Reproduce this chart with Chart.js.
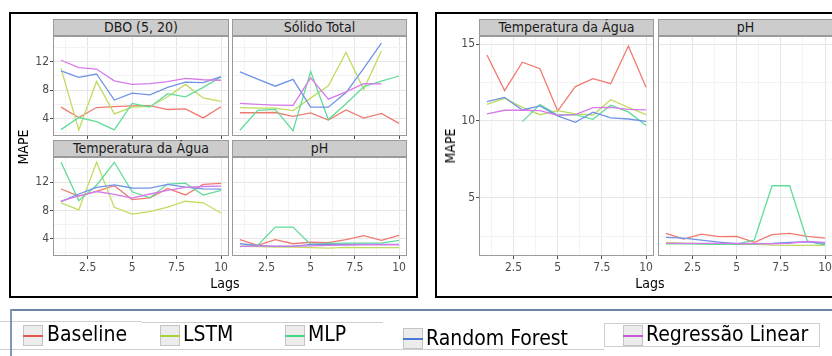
<!DOCTYPE html>
<html><head><meta charset="utf-8">
<script src="https://cdn.jsdelivr.net/npm/chart.js@4"></script>
<style>
html,body{margin:0;padding:0;background:#fff;width:832px;height:356px;overflow:hidden;position:relative;font-family:'DejaVu Sans Condensed','DejaVu Sans',sans-serif;}
.frame{position:absolute;border:2px solid #000;box-sizing:border-box;}
.strip{position:absolute;background:#cccccc;border:1px solid #9a9a9a;box-sizing:border-box;color:#1a1a1a;font-size:14px;text-align:center;line-height:15px;white-space:nowrap;}
.title{position:absolute;font-size:14px;color:#000;white-space:nowrap;line-height:14px;}
.hl{position:absolute;height:1px;background:#cfcfcf;}
.key{position:absolute;width:20px;height:21px;box-sizing:border-box;background:#ececec;border:1px solid #c4c4c4;}
.key i{position:absolute;left:-1px;right:-1px;top:9px;height:2px;display:block;}
.lt{position:absolute;font-size:21px;line-height:21px;color:#000;white-space:nowrap;}
</style>
</head><body>
<div class="frame" style="left:9px;top:12px;width:409px;height:286px;"></div>
<div class="frame" style="left:435px;top:12px;width:420px;height:286px;"></div>
<script>
// ---------------- DATA ----------------
const lags = [1, 2, 3, 4, 5, 6, 7, 8, 9, 10];
const seriesNames = ['Baseline', 'LSTM', 'MLP', 'Random Forest', 'Regressão Linear'];
const facetTitlesLeft = ['DBO (5, 20)', 'Sólido Total', 'Temperatura da Água', 'pH'];
const facetTitlesRight = ['Temperatura da Água', 'pH'];
const xTicks = [1.25, 2.5, 3.75, 5, 6.25, 7.5, 8.75, 10];
const yTicksLeft = [2, 4, 6, 8, 10, 12, 14];
const yTicksRight = [2.5, 5, 7.5, 10, 12.5, 15];

// left figure, DBO (5, 20)
const dboBaseline = [5.6, 4.14, 5.55, 5.69, 5.79, 5.83, 5.27, 5.36, 4.09, 5.65];
const dboLSTM     = [11.06, 2.4, 9.22, 4.66, 5.6, 5.7, 7.06, 8.8, 6.9, 6.4];
const dboMLP      = [2.45, 4.14, 3.58, 2.4, 6.12, 5.6, 7.5, 7.06, 8.38, 9.85];
const dboRF       = [10.7, 9.8, 10.26, 6.6, 7.58, 7.34, 8.38, 9.13, 9.04, 9.88];
const dboRL       = [12.19, 11.15, 10.96, 9.3, 8.8, 8.9, 9.2, 9.65, 9.45, 9.38];
// left figure, Sólido Total
const solBaseline = [4.82, 4.82, 4.85, 4.3, 4.8, 3.78, 5.2, 4.07, 4.72, 3.32];
const solLSTM     = [5.55, 5.48, 5.46, 5.13, 6.87, 8.6, 13.3, 8.1, 13.5, null];
const solMLP      = [2.35, 5.15, 5.28, 2.3, 10.6, 3.86, 6.07, 8.47, 9.27, 9.98];
const solRF       = [10.55, 9.55, 8.55, 9.5, 5.6, 5.6, 7.65, 11.06, 14.59, null];
const solRL       = [6.14, 6.0, 5.9, 5.84, 9.72, 6.73, 7.76, 8.9, 8.87, null];
// left figure, Temperatura da Água
const tmpBaseline = [11.06, 10.05, 10.73, 11.53, 9.55, 9.79, 11.15, 10.21, 11.72, 11.86];
const tmpLSTM     = [9.08, 8.09, 14.85, 8.47, 7.5, 7.86, 8.5, 9.32, 9.1, 7.65];
const tmpMLP      = [14.85, 9.41, 11.6, 14.85, 10.66, 9.8, 11.76, 11.88, 10.2, 10.87];
const tmpRF       = [9.27, 10.35, 11.3, 11.65, 11.2, 11.17, 11.72, 11.32, 11.08, 11.03];
const tmpRL       = [9.34, 10.07, 10.7, 10.3, 9.77, 10.35, 10.87, 11.29, 11.41, 11.48];
// left figure, pH
const phBaseline  = [3.86, 3.06, 3.86, 3.29, 3.5, 3.45, 3.86, 4.45, 3.76, 4.47];
const phLSTM      = [2.92, 2.9, 2.82, 2.8, 2.73, 2.68, 2.78, 2.73, 2.73, 2.73];
const phMLP       = [2.87, 3.06, 5.65, 5.65, 3.18, 3.34, 3.39, 3.39, 3.39, 3.76];
const phRF        = [3.29, 3.06, 2.92, 2.92, 3.2, 3.2, 3.2, 3.2, 3.2, 3.2];
const phRL        = [2.92, 2.94, 2.94, 2.96, 3.0, 3.06, 3.1, 3.15, 3.15, 3.15];
// right figure, Temperatura da Água
const tmp2Baseline = [14.3, 11.98, 13.83, 13.41, 10.65, 12.24, 12.76, 12.43, 14.89, 12.2];
const tmp2LSTM     = [11.09, 11.48, 10.89, 10.41, 10.67, 10.46, 10.39, 11.39, 10.89, 10.41];
const tmp2MLP      = [null, null, 9.96, 11.07, 10.39, 10.41, 10.11, 11.02, 10.59, 9.7];
const tmp2RF       = [11.26, 11.54, 10.72, 10.98, 10.33, 9.91, 10.57, 10.2, 10.13, 9.98];
const tmp2RL       = [10.46, 10.7, 10.7, 10.67, 10.37, 10.41, 10.87, 10.89, 10.76, 10.72];
// right figure, pH
const ph2Baseline = [2.67, 2.3, 2.63, 2.46, 2.48, 2.09, 2.59, 2.67, 2.48, 2.37];
const ph2LSTM     = [2.09, 2.03, 2.0, 1.96, 1.96, 1.98, 1.91, 1.89, 1.89, 1.89];
const ph2MLP      = [2.0, 2.0, 1.98, 1.96, 1.98, 2.24, 5.78, 5.78, 2.17, 1.91];
const ph2RF       = [2.41, 2.37, 2.24, 2.11, 2.0, 2.0, 2.02, 2.09, 2.13, 2.02];
const ph2RL       = [2.02, 2.02, 2.02, 2.02, 2.02, 2.02, 2.0, 2.02, 2.15, 2.09];

// ---------------- STYLE ----------------
const lineColors = ['#F07A70', '#BFDC60', '#60DC98', '#6F94E6', '#D67AEA'];
const keyColors  = ['#E2564C', '#A9D23E', '#44D985', '#4A78D8', '#C957DA'];
const FONT = "'DejaVu Sans Condensed','DejaVu Sans',sans-serif";
Chart.defaults.font.family = FONT;
Chart.defaults.animation = false;

const isMul = (v, s) => Math.abs(v / s - Math.round(v / s)) < 1e-6;

const panelBorder = {
  id: 'panelBorder',
  afterDatasetsDraw(chart) {
    const a = chart.chartArea, c = chart.ctx;
    c.save();
    c.strokeStyle = '#9a9a9a';
    c.lineWidth = 1;
    c.strokeRect(a.left + 0.5, a.top + 0.5, a.right - a.left - 1, a.bottom - a.top - 1);
    c.restore();
  }
};

function addDiv(cls, style, text) {
  const d = document.createElement('div');
  d.className = cls;
  d.setAttribute('style', style);
  if (text !== undefined) d.textContent = text;
  document.body.appendChild(d);
  return d;
}

function facet(box, title, series, o) {
  const padL = 8, padT = 10, padR = 12, padB = 8;
  const yW = o.yLabels ? o.yAxW : 0;
  const xH = o.xLabels ? 22 : 4;
  const w = padL + yW + box.w + padR, h = padT + box.h + xH + padB;
  const cv = document.createElement('canvas');
  cv.width = w; cv.height = h;
  cv.style.position = 'absolute';
  cv.style.left = (box.l - yW - padL) + 'px';
  cv.style.top = (box.t - padT) + 'px';
  cv.style.width = w + 'px'; cv.style.height = h + 'px';
  document.body.appendChild(cv);
  addDiv('strip', `left:${box.l}px;top:${box.t - 17}px;width:${box.w}px;height:17px;`, title);

  const datasets = series.map((arr, i) => ({
    label: seriesNames[i],
    data: lags.map((x, j) => ({ x: x, y: arr[j] })),
    borderColor: lineColors[i],
    backgroundColor: lineColors[i],
    borderWidth: 1.3,
    pointRadius: 0,
    tension: 0,
    fill: false,
    spanGaps: false,
    order: 5 - i
  }));
  const gridColor = (step) => (ctx) => (ctx.tick && isMul(ctx.tick.value, step)) ? '#e6e6e6' : '#f3f3f3';
  const tickColor = (step) => (ctx) => (ctx.tick && isMul(ctx.tick.value, step)) ? '#4d4d4d' : 'rgba(0,0,0,0)';

  new Chart(cv, {
    type: 'line',
    data: { datasets },
    plugins: [panelBorder],
    options: {
      responsive: false,
      devicePixelRatio: 1,
      animation: false,
      layout: { padding: { left: padL, top: padT, right: padR, bottom: padB } },
      plugins: { legend: { display: false }, tooltip: { enabled: false } },
      scales: {
        x: {
          type: 'linear', min: 0.55, max: 10.45,
          afterBuildTicks: s => { s.ticks = xTicks.map(v => ({ value: v })); },
          afterFit: s => { s.height = xH; },
          border: { display: false },
          grid: { color: gridColor(2.5), lineWidth: 1, drawTicks: true, tickLength: 3, tickColor: tickColor(2.5), tickWidth: 1 },
          ticks: { display: o.xLabels, autoSkip: false, maxRotation: 0, minRotation: 0, padding: 2, color: '#4d4d4d', font: { size: 12 },
                   callback: v => isMul(v, 2.5) ? String(v) : '' }
        },
        y: {
          type: 'linear', min: o.ymin, max: o.ymax,
          afterBuildTicks: s => { s.ticks = o.yTicks.map(v => ({ value: v })); },
          afterFit: s => { s.width = yW; },
          border: { display: false },
          grid: { color: gridColor(o.yMajor), lineWidth: 1, drawTicks: o.yLabels, tickLength: 3, tickColor: tickColor(o.yMajor), tickWidth: 1 },
          ticks: { display: o.yLabels, autoSkip: false, padding: 1, color: '#4d4d4d', font: { size: 12 },
                   callback: v => isMul(v, o.yMajor) ? String(v) : '' }
        }
      }
    }
  });
}

const L = { ymin: 1.55, ymax: 15.6, yTicks: yTicksLeft, yMajor: 4, yAxW: 30 };
const R = { ymin: 1.2, ymax: 15.54, yTicks: yTicksRight, yMajor: 5, yAxW: 30 };

facet({ l: 53, t: 36, w: 176, h: 100 }, facetTitlesLeft[0], [dboBaseline, dboLSTM, dboMLP, dboRF, dboRL], Object.assign({}, L, { yLabels: true, xLabels: false }));
facet({ l: 232, t: 36, w: 175, h: 100 }, facetTitlesLeft[1], [solBaseline, solLSTM, solMLP, solRF, solRL], Object.assign({}, L, { yLabels: false, xLabels: false }));
facet({ l: 53, t: 157, w: 176, h: 99 }, facetTitlesLeft[2], [tmpBaseline, tmpLSTM, tmpMLP, tmpRF, tmpRL], Object.assign({}, L, { yLabels: true, xLabels: true }));
facet({ l: 232, t: 157, w: 175, h: 99 }, facetTitlesLeft[3], [phBaseline, phLSTM, phMLP, phRF, phRL], Object.assign({}, L, { yLabels: false, xLabels: true }));

facet({ l: 479, t: 36, w: 175, h: 220 }, facetTitlesRight[0], [tmp2Baseline, tmp2LSTM, tmp2MLP, tmp2RF, tmp2RL], Object.assign({}, R, { yLabels: true, xLabels: true }));
facet({ l: 658, t: 36, w: 175, h: 220 }, facetTitlesRight[1], [ph2Baseline, ph2LSTM, ph2MLP, ph2RF, ph2RL], Object.assign({}, R, { yLabels: false, xLabels: true }));

// axis titles
addDiv('title', 'left:225px;top:276px;transform:translateX(-50%);', 'Lags');
addDiv('title', 'left:650px;top:276px;transform:translateX(-50%);', 'Lags');
addDiv('title', 'left:23px;top:147px;transform:translate(-50%,-50%) rotate(-90deg);', 'MAPE');
addDiv('title', 'left:450px;top:146px;transform:translate(-50%,-50%) rotate(-90deg);', 'MAPE');

// legend decorations
addDiv('hl', 'left:0px;top:321px;width:142px;');
addDiv('hl', 'left:142px;top:322px;width:241px;');
addDiv('hl', 'left:0px;top:349px;width:604px;');
addDiv('hl', 'left:604px;top:323px;width:216px;height:24px;background:transparent;border:1px solid #cfcfcf;box-sizing:border-box;');
addDiv('hl', 'left:10px;top:309px;width:822px;height:2px;background:#6c84a3;');
addDiv('hl', 'left:10px;top:309px;width:2px;height:47px;background:#8096b4;');

const keyPos = [[23, 325, 47, 324], [160, 325, 183, 324], [285, 325, 308, 324], [403, 328, 426, 328], [623, 325, 646, 324]];
seriesNames.forEach((n, i) => {
  const p = keyPos[i];
  const k = addDiv('key', `left:${p[0]}px;top:${p[1]}px;`);
  const line = document.createElement('i');
  line.style.background = keyColors[i];
  k.appendChild(line);
  addDiv('lt', `left:${p[2]}px;top:${p[3]}px;`, n);
});
</script>
</body></html>
